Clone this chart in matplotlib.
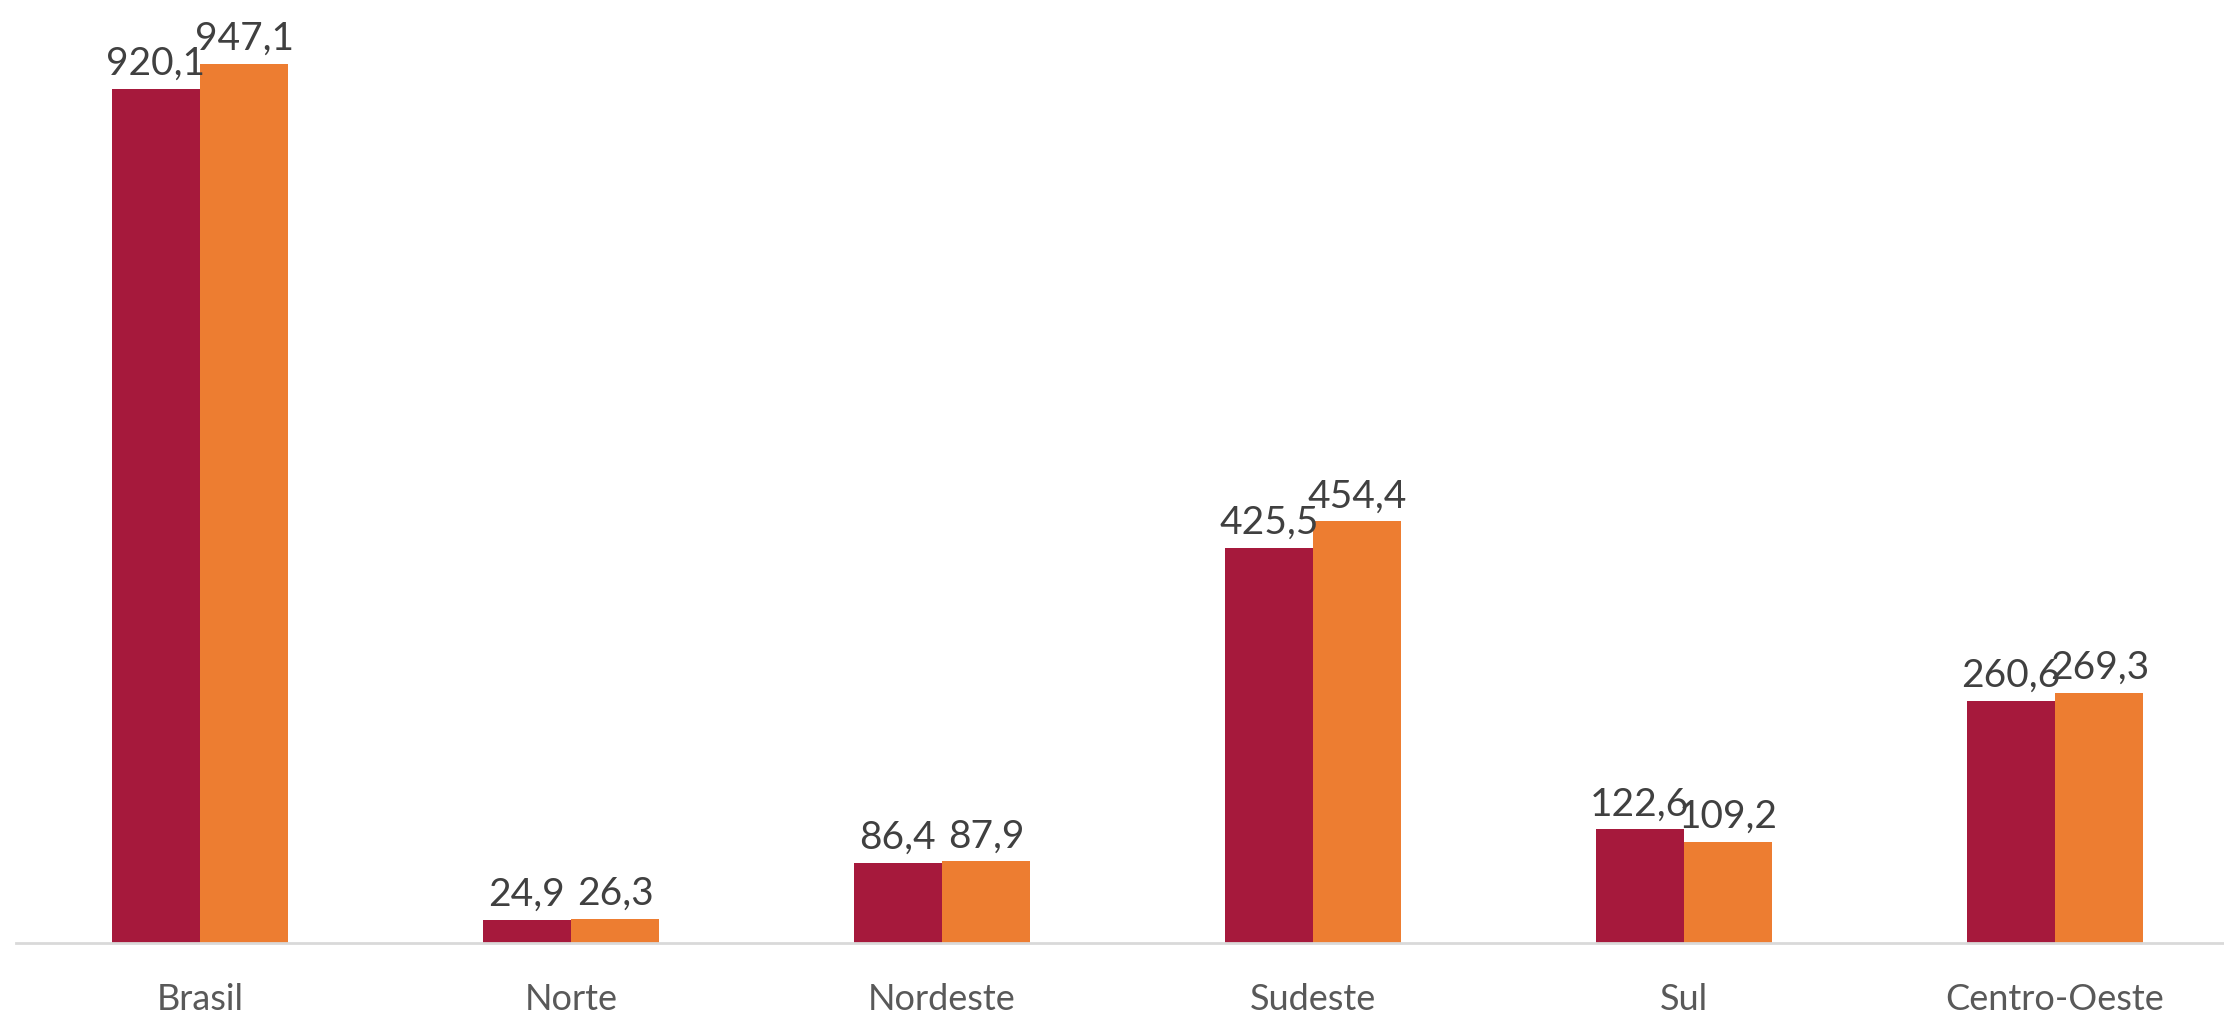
import matplotlib
matplotlib.use("Agg")
import matplotlib.pyplot as plt
import numpy as np

categories = ["Brasil", "Norte", "Nordeste", "Sudeste", "Sul", "Centro-Oeste"]
serie_a = [920.1, 24.9, 86.4, 425.5, 122.6, 260.6]
serie_b = [947.1, 26.3, 87.9, 454.4, 109.2, 269.3]

def fmt(v):
    return f"{v:.1f}".replace(".", ",")

plt.rcParams['font.family'] = ['Lato', 'DejaVu Sans']

fig = plt.figure(figsize=(22.24, 10.17), dpi=100)
W, H = 2224, 1017
bottom_px, top_px = 943, 15
ax = fig.add_axes([0, (H - bottom_px) / H, 1, (bottom_px - top_px) / H])

x = np.arange(len(categories))
bw = 0.2385
c1, c2 = "#A6193C", "#ED7D31"
b1 = ax.bar(x - bw / 2, serie_a, bw, color=c1, zorder=2)
b2 = ax.bar(x + bw / 2, serie_b, bw, color=c2, zorder=2)

for bars, vals in ((b1, serie_a), (b2, serie_b)):
    for rect, v in zip(bars, vals):
        ax.annotate(fmt(v), (rect.get_x() + rect.get_width() / 2, v),
                    xytext=(0, 5), textcoords="offset points",
                    ha="center", va="bottom", fontsize=28, color="#404040")

c0, spacing = 200.0, 371.0
ax.set_xlim((0 - c0) / spacing, (W - c0) / spacing)
ax.set_ylim(0, 1000)

for s in ["top", "right", "left"]:
    ax.spines[s].set_visible(False)
ax.spines["bottom"].set_color("#D9D9D9")
ax.spines["bottom"].set_linewidth(2)
ax.spines["bottom"].set_bounds((16 - c0) / spacing, (W - c0) / spacing)
ax.set_yticks([])
ax.set_xticks(x)
ax.set_xticklabels(categories, fontsize=26, color="#595959")
ax.tick_params(axis="x", length=0, pad=29)

fig.savefig("out.png", dpi=100, facecolor="white")
